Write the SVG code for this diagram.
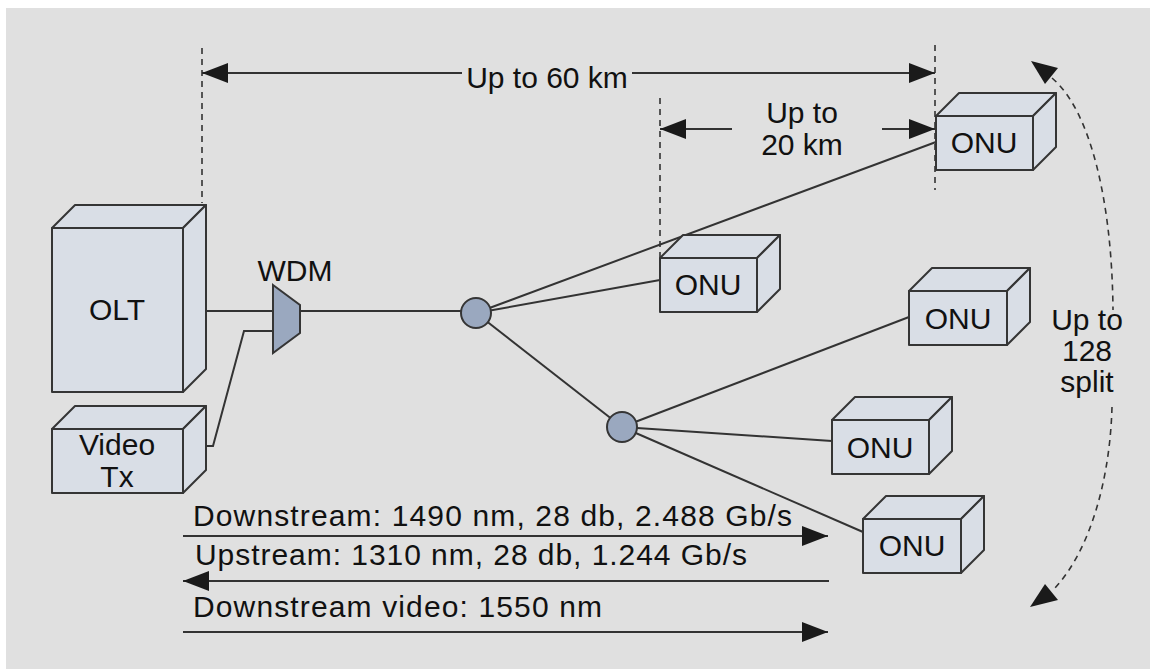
<svg xmlns="http://www.w3.org/2000/svg" width="1150" height="669" viewBox="0 0 1150 669">
<style>
.box{fill:#d9dee6;stroke:#353535;stroke-width:2;stroke-linejoin:round}
.ln{fill:none;stroke:#333;stroke-width:2}
.dash{fill:none;stroke:#333;stroke-width:1.6;stroke-dasharray:6 5}
.t{font-family:"Liberation Sans",Arial,sans-serif;font-size:30px;fill:#111}
.m{text-anchor:middle}
.sp{fill:#9aa8bf;stroke:#353535;stroke-width:2}
</style>
<defs>
<marker id="ah" viewBox="0 0 26 20" refX="26" refY="10" markerWidth="26" markerHeight="20" markerUnits="userSpaceOnUse" orient="auto-start-reverse">
<path d="M0,0 L26,10 L0,20 Z" fill="#1a1a1a"/>
</marker>
</defs>
<rect x="0" y="0" width="1150" height="669" fill="#ffffff"/>
<rect x="6" y="8" width="1144" height="661" fill="#e0e0e0"/>

<g id="connectors">
<!-- dimension lines -->
<path class="dash" d="M202,48 V203"/>
<path class="dash" d="M935,45 V190"/>
<path class="dash" d="M660,98 V257"/>
<path class="ln" d="M202,73 H462" marker-start="url(#ah)"/>
<path class="ln" d="M632,73 H935" marker-end="url(#ah)"/>
<path class="ln" d="M660,129 H732" marker-start="url(#ah)"/>
<path class="ln" d="M882,129 H935" marker-end="url(#ah)"/>
<!-- fibre links -->
<path class="ln" d="M206,311 H273"/>
<path class="ln" d="M206,446 H213 L244,331 H273"/>
<path class="ln" d="M300,311 H476"/>
<path class="ln" d="M476,313 L936,142"/>
<path class="ln" d="M476,313 L660,280"/>
<path class="ln" d="M476,313 L622,427"/>
<path class="ln" d="M622,427 L909,317"/>
<path class="ln" d="M622,427 L832,441"/>
<path class="ln" d="M622,427 L863,532"/>
<!-- wavelength arrows -->
<path class="ln" d="M183,536 H828" marker-end="url(#ah)"/>
<path class="ln" d="M183,581 H829" marker-start="url(#ah)"/>
<path class="ln" d="M183,632 H828" marker-end="url(#ah)"/>
<!-- split arc -->
<path class="dash" d="M1052,78 C1090,110 1112,200 1113,310"/>
<path class="dash" d="M1112,407 C1110,480 1090,550 1055,588"/>
<polygon points="1031,61 1058,68 1045,84" fill="#1a1a1a"/>
<polygon points="1030,607 1045,584 1058,600" fill="#1a1a1a"/>
</g>

<g id="olt">
<rect class="box" x="52" y="228" width="131" height="164"/>
<path class="box" d="M52,228 L75,205 L206,205 L183,228 Z"/>
<path class="box" d="M183,228 L206,205 L206,369 L183,392 Z"/>
<text class="t m" x="117" y="320">OLT</text>
</g>

<g id="video-tx">
<rect class="box" x="52" y="429" width="131" height="64"/>
<path class="box" d="M52,429 L75,406 L206,406 L183,429 Z"/>
<path class="box" d="M183,429 L206,406 L206,470 L183,493 Z"/>
<text class="t m" x="117" y="455">Video</text>
<text class="t m" x="117" y="487">Tx</text>
</g>

<g id="wdm">
<path class="sp" d="M273,285 L300,305 L300,333 L273,353 Z"/>
<text class="t m" x="295" y="281">WDM</text>
</g>

<g id="splitter1"><circle class="sp" cx="476" cy="313" r="15"/></g>
<g id="splitter2"><circle class="sp" cx="622" cy="427" r="15"/></g>

<g id="onu1">
<rect class="box" x="936" y="116" width="97" height="54"/>
<path class="box" d="M936,116 L959,93 L1056,93 L1033,116 Z"/>
<path class="box" d="M1033,116 L1056,93 L1056,147 L1033,170 Z"/>
<text class="t m" x="984" y="153">ONU</text>
</g>

<g id="onu2">
<rect class="box" x="660" y="258" width="97" height="54"/>
<path class="box" d="M660,258 L683,235 L780,235 L757,258 Z"/>
<path class="box" d="M757,258 L780,235 L780,289 L757,312 Z"/>
<text class="t m" x="708" y="295">ONU</text>
</g>

<g id="onu3">
<rect class="box" x="909" y="291" width="98" height="54"/>
<path class="box" d="M909,291 L932,268 L1030,268 L1007,291 Z"/>
<path class="box" d="M1007,291 L1030,268 L1030,322 L1007,345 Z"/>
<text class="t m" x="958" y="329">ONU</text>
</g>

<g id="onu4">
<rect class="box" x="832" y="420" width="97" height="54"/>
<path class="box" d="M832,420 L855,397 L952,397 L929,420 Z"/>
<path class="box" d="M929,420 L952,397 L952,451 L929,474 Z"/>
<text class="t m" x="880" y="458">ONU</text>
</g>

<g id="onu5">
<rect class="box" x="863" y="519" width="98" height="54"/>
<path class="box" d="M863,519 L886,496 L984,496 L961,519 Z"/>
<path class="box" d="M961,519 L984,496 L984,550 L961,573 Z"/>
<text class="t m" x="912" y="556">ONU</text>
</g>

<g id="labels">
<text class="t m" x="547" y="88">Up to 60 km</text>
<text class="t m" x="802" y="123">Up to</text>
<text class="t m" x="802" y="155">20 km</text>
<text class="t m" x="1087" y="330">Up to</text>
<text class="t m" x="1087" y="361">128</text>
<text class="t m" x="1087" y="392">split</text>
<text class="t" x="193" y="526" textLength="599">Downstream: 1490 nm, 28 db, 2.488 Gb/s</text>
<text class="t" x="195" y="565" textLength="552">Upstream: 1310 nm, 28 db, 1.244 Gb/s</text>
<text class="t" x="193" y="617" textLength="409">Downstream video: 1550 nm</text>
</g>
</svg>
